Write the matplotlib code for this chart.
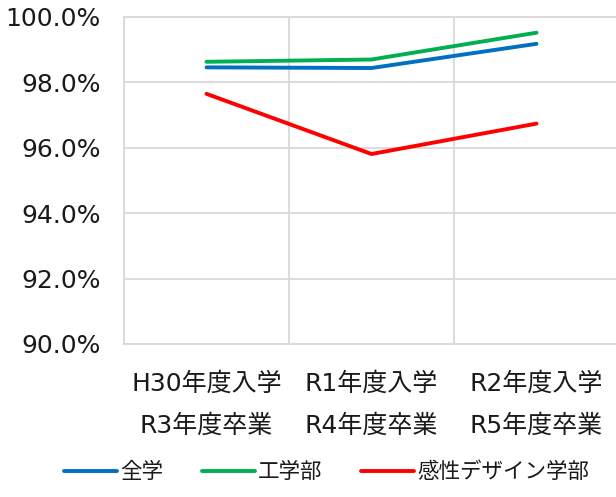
import matplotlib
matplotlib.use("Agg")
import matplotlib.pyplot as plt
from matplotlib.ticker import FuncFormatter

plt.rcParams['font.family'] = ['DejaVu Sans', 'Noto Sans CJK JP']

categories = ["H30年度入学\nR3年度卒業", "R1年度入学\nR4年度卒業", "R2年度入学\nR5年度卒業"]
series_names = ["全学", "工学部", "感性デザイン学部"]
zengaku = [98.46, 98.44, 99.18]
kogakubu = [98.63, 98.70, 99.52]
kansei = [97.65, 95.81, 96.74]
colors = ["#0070C0", "#00B050", "#FF0000"]
yticks = [90, 92, 94, 96, 98, 100]

W, H = 616, 497
fig = plt.figure(figsize=(W / 100, H / 100), dpi=100)
ax = fig.add_axes([124 / W, 1 - 344 / H, 495 / W, (344 - 17) / H])

x = list(range(len(categories)))
for vals, name, c in zip([zengaku, kogakubu, kansei], series_names, colors):
    ax.plot(x, vals, color=c, lw=2.8, label=name, solid_capstyle='round', zorder=3)

ax.set_xlim(-0.5, len(categories) - 0.5)
ax.set_ylim(90, 100)
ax.set_yticks(yticks)
ax.yaxis.set_major_formatter(FuncFormatter(lambda v, p: f"{v:.1f}%"))
ax.set_xticks(x)
ax.set_xticklabels(categories, linespacing=1.94)
ax.set_xticks([i + 0.5 for i in x[:-1]] + [-0.5], minor=True)

grid_c = "#D9D9D9"
ax.grid(axis='y', which='major', color=grid_c, lw=1.3)
ax.grid(axis='x', which='minor', color=grid_c, lw=1.3)
ax.grid(axis='x', which='major', visible=False)
for s in ax.spines.values():
    s.set_color(grid_c)
    s.set_linewidth(1.3)

ax.tick_params(axis='both', which='both', length=0, labelsize=18, labelcolor='#1a1a1a')
ax.tick_params(axis='y', pad=17)
ax.tick_params(axis='x', pad=20)

leg = fig.legend(loc='center', bbox_to_anchor=(0.53, 1 - 472 / H), ncol=3, frameon=False,
                 fontsize=15.5, handlelength=2.46, handletextpad=0.14, columnspacing=1.8)
for t in leg.get_texts():
    t.set_color('#1a1a1a')

fig.savefig("out.png", dpi=100)
